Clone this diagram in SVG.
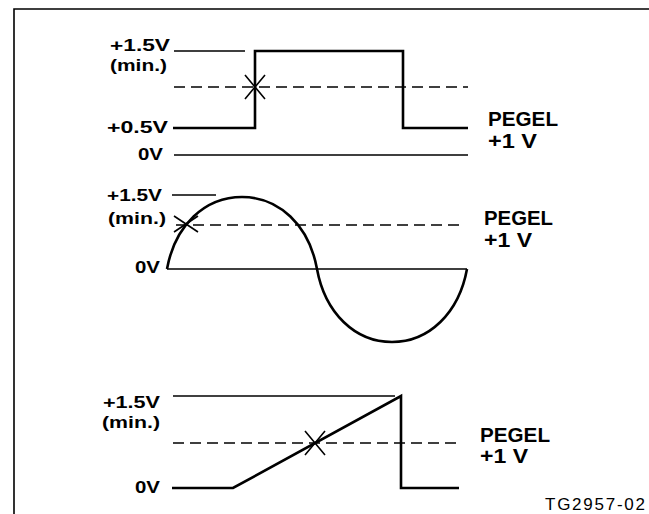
<svg xmlns="http://www.w3.org/2000/svg" width="649" height="514" viewBox="0 0 649 514">
<style>
.frame{fill:none;stroke:#000;stroke-width:1.6}
.ref{fill:none;stroke:#000;stroke-width:1.6}
.dash{fill:none;stroke:#000;stroke-width:1.6;stroke-dasharray:11 6}
.wave{fill:none;stroke:#000;stroke-width:2.6;stroke-linejoin:miter}
.x{fill:none;stroke:#000;stroke-width:1.6}
.lbl{font-family:"Liberation Sans",Arial,Helvetica,sans-serif;font-weight:bold;font-size:17px;fill:#000;text-anchor:end}
.peg{font-family:"Liberation Sans",Arial,Helvetica,sans-serif;font-weight:bold;font-size:20px;fill:#000}
.tg{font-family:"Liberation Sans",Arial,Helvetica,sans-serif;font-size:17px;fill:#000}
</style>
<rect width="649" height="514" fill="#fff"/>
<path class="frame" d="M14,514 V9 H649"/>

<g id="panel1">
  <path class="ref" d="M174,51 H245 M174,155 H468"/>
  <path class="dash" d="M174,87 H468"/>
  <path class="wave" d="M173,128 H255 V51 H403 V128 H468"/>
  <path class="x" d="M245,75 L265,99 M245,99 L265,75"/>
  <text class="lbl" x="170" y="51" textLength="60" lengthAdjust="spacingAndGlyphs">+1.5V</text>
  <text class="lbl" x="167" y="71" textLength="57" lengthAdjust="spacingAndGlyphs">(min.)</text>
  <text class="lbl" x="168" y="133" textLength="61" lengthAdjust="spacingAndGlyphs">+0.5V</text>
  <text class="lbl" x="163" y="160" textLength="25" lengthAdjust="spacingAndGlyphs">0V</text>
  <text class="peg" x="488" y="126" textLength="70" lengthAdjust="spacingAndGlyphs">PEGEL</text>
  <text class="peg" x="488" y="148" textLength="49" lengthAdjust="spacingAndGlyphs">+1 V</text>
</g>

<g id="panel2">
  <path class="ref" d="M172,195 H216 M167,269 H467"/>
  <path class="dash" d="M176,225 H465"/>
  <path class="wave" d="M167,269 C175,225 205,197 242,197 C279,197 309,225 317,269 C325,313 355,342 392,342 C429,342 459,313 467,269"/>
  <path class="x" d="M174,216 L198,232 M174,232 L198,216"/>
  <text class="lbl" x="162" y="201" textLength="55" lengthAdjust="spacingAndGlyphs">+1.5V</text>
  <text class="lbl" x="166" y="224" textLength="58" lengthAdjust="spacingAndGlyphs">(min.)</text>
  <text class="lbl" x="160" y="273" textLength="25" lengthAdjust="spacingAndGlyphs">0V</text>
  <text class="peg" x="484" y="225" textLength="69" lengthAdjust="spacingAndGlyphs">PEGEL</text>
  <text class="peg" x="484" y="247" textLength="48" lengthAdjust="spacingAndGlyphs">+1 V</text>
</g>

<g id="panel3">
  <path class="ref" d="M173,396 H395"/>
  <path class="dash" d="M173,443 H462"/>
  <path class="wave" d="M172,488 H233 L401,396 V488 H459"/>
  <path class="x" d="M305,431 L325,455 M305,455 L325,431"/>
  <text class="lbl" x="160" y="408" textLength="57" lengthAdjust="spacingAndGlyphs">+1.5V</text>
  <text class="lbl" x="160" y="428" textLength="58" lengthAdjust="spacingAndGlyphs">(min.)</text>
  <text class="lbl" x="160" y="493" textLength="25" lengthAdjust="spacingAndGlyphs">0V</text>
  <text class="peg" x="480" y="442" textLength="70" lengthAdjust="spacingAndGlyphs">PEGEL</text>
  <text class="peg" x="480" y="463" textLength="48" lengthAdjust="spacingAndGlyphs">+1 V</text>
  <text class="tg" x="545" y="510" textLength="100" lengthAdjust="spacing">TG2957-02</text>
</g>
</svg>
